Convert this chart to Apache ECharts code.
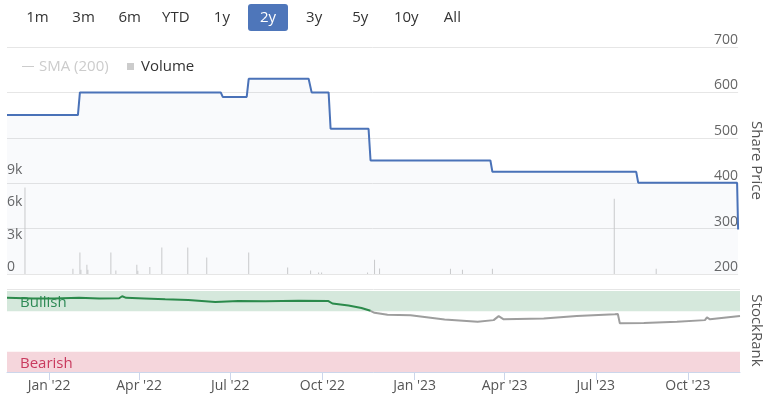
<!DOCTYPE html>
<html><head><meta charset="utf-8">
<script src="https://cdn.jsdelivr.net/npm/echarts@6/dist/echarts.min.js"></script>
<style>html,body{margin:0;padding:0;background:#fff}#c{width:772px;height:395px}</style>
</head><body><div id="c"></div>
<script>
// ---- data ----
const rangeButtons = ['1m','3m','6m','YTD','1y','2y','3y','5y','10y','All'];
const activeButton = '2y';
const xStart = '2021-11-20';
const xEnd = '2023-11-22';
const tickDates = ['2022-01-01','2022-04-01','2022-07-01','2022-10-01','2023-01-01','2023-04-01','2023-07-01','2023-10-01'];
const tickLabels = ["Jan '22","Apr '22","Jul '22","Oct '22","Jan '23","Apr '23","Jul '23","Oct '23"];

const priceDates = ['2021-11-20','2022-01-30','2022-02-01','2022-06-22','2022-06-24','2022-07-18','2022-07-20','2022-09-18','2022-09-21','2022-10-08','2022-10-10','2022-11-17','2022-11-19','2023-03-19','2023-03-21','2023-08-12','2023-08-14','2023-11-21','2023-11-22'];
const priceValues = [550,550,600,600,590,590,630,630,600,600,520,520,450,450,425,425,401,401,298];

const volumeDates = ['2021-12-08','2022-01-25','2022-02-01','2022-02-02','2022-02-08','2022-02-09','2022-03-04','2022-03-09','2022-03-30','2022-03-31','2022-04-12','2022-04-24','2022-05-20','2022-06-08','2022-07-20','2022-08-28','2022-09-20','2022-09-28','2022-10-01','2022-11-16','2022-11-23','2022-11-28','2023-02-07','2023-02-19','2023-03-21','2023-07-21','2023-09-01'];
const volumeValues = [8000,490,1990,400,860,400,1990,330,860,300,650,2450,2450,1530,1990,610,330,150,150,150,1320,520,490,400,490,6950,490];

const rankDates = ['2021-11-20','2021-12-16','2022-01-06','2022-01-31','2022-02-20','2022-03-12','2022-03-15','2022-03-19','2022-04-06','2022-04-27','2022-05-20','2022-06-16','2022-07-09','2022-08-05','2022-09-07','2022-10-07','2022-10-11','2022-10-27','2022-11-09','2022-11-18','2022-11-22','2022-12-05','2022-12-28','2023-01-31','2023-03-05','2023-03-21','2023-03-26','2023-03-31','2023-05-10','2023-06-12','2023-07-20','2023-07-23','2023-07-25','2023-08-18','2023-09-20','2023-10-18','2023-10-20','2023-10-23','2023-11-22'];
const rankValues = [91.5,90.6,90.8,91.5,90.6,91,93.5,91.5,90.8,89.8,88.8,86.5,87.5,87.3,87.8,87.5,84.5,82,79,75.5,73,70.5,70.1,64.8,61.9,64,68.9,65,66,69.2,71.3,71.5,60,60.6,61.9,64,67.3,65,69];
const bullishThreshold = 75;

const bandNames = ['Bullish','Bearish'];

// ---- helpers ----
function ts(s){const p=s.split('-').map(Number);return new Date(p[0],p[1]-1,p[2]).getTime();}
const FONT = 'Open Sans';
const tickTs = tickDates.map(ts);
const pricePts = priceDates.map((d,i)=>[ts(d),priceValues[i]]);
const volPts = volumeDates.map((d,i)=>[ts(d),volumeValues[i]]);
const rankPts = rankDates.map((d,i)=>[ts(d),rankValues[i]]);
const firstLow = rankValues.findIndex(v=>v<bullishThreshold);
const rankHigh = rankPts.slice(0, firstLow);
const rankLow = rankPts.slice(firstLow-1);

const graphics = [];
rangeButtons.forEach((b,i)=>{
  const cx = 37.5 + 46.1*i;
  if (b===activeButton) {
    graphics.push({type:'rect', shape:{x:cx-20, y:4, width:40, height:27, r:3}, style:{fill:'#4e76ba'}});
  }
  graphics.push({type:'text', x:cx, y:18, style:{text:b, fill: b===activeButton?'#fff':'#333', font:'15px "Open Sans"', textAlign:'center', textVerticalAlign:'middle'}});
});

const chart = echarts.init(document.getElementById('c'), null, {renderer:'canvas'});
const xCommon = {type:'value', min: ts(xStart), max: ts(xEnd), scale:true};
chart.setOption({
  animation:false,
  textStyle:{fontFamily:FONT},
  graphic: graphics,
  legend:[
    {data:['SMA (200)'], left:17, top:54, icon:'rect', itemWidth:12, itemHeight:1, inactiveColor:'#ccc', selected:{'SMA (200)':false}, textStyle:{fontSize:15, color:'#333', fontFamily:FONT, padding:[0,0,0,0]}},
    {data:['Volume'], left:122, top:54, icon:'rect', itemWidth:7, itemHeight:7, textStyle:{fontSize:15, color:'#333', fontFamily:FONT, padding:[0,0,0,2]}}
  ],
  grid:[
    {left:7, right:29, top:47, bottom:121},
    {left:7, right:29, top:289, bottom:23}
  ],
  xAxis:[
    Object.assign({gridIndex:0, show:false, splitLine:{show:false}}, xCommon),
    Object.assign({gridIndex:1,
      axisLine:{show:true, lineStyle:{color:'#ccd6eb'}},
      axisTick:{show:true, length:8, lineStyle:{color:'#ccd6eb'}, customValues: tickTs},
      axisLabel:{customValues: tickTs, color:'#555', fontSize:14, margin:7, fontFamily:FONT,
        formatter:(v)=>{const i=tickTs.indexOf(v);return i>=0?tickLabels[i]:'';}},
      splitLine:{show:false}
    }, xCommon)
  ],
  yAxis:[
    {gridIndex:0, type:'value', position:'right', min:200, max:700, interval:100,
      name:'Share Price', nameLocation:'middle', nameRotate:-90, nameGap:9,
      nameTextStyle:{fontSize:15, color:'#555', fontFamily:FONT},
      axisLine:{show:false}, axisTick:{show:false},
      axisLabel:{inside:true, margin:0, verticalAlign:'bottom', color:'#666', fontSize:14, fontFamily:FONT},
      splitLine:{lineStyle:{color:'#e6e6e6'}}},
    {gridIndex:0, type:'value', position:'left', min:0, max:21000, interval:3000,
      axisLine:{show:false}, axisTick:{show:false}, splitLine:{show:false},
      axisLabel:{inside:true, margin:0, verticalAlign:'bottom', color:'#666', fontSize:14, fontFamily:FONT,
        formatter:(v)=> v===0?'0':(v<=9000?(v/1000)+'k':'')}},
    {gridIndex:1, type:'value', position:'right', min:0, max:102.4, interval:102.4,
      name:'StockRank', nameLocation:'middle', nameRotate:-90, nameGap:9,
      nameTextStyle:{fontSize:15, color:'#555', fontFamily:FONT},
      axisLine:{show:false}, axisTick:{show:false},
      axisLabel:{inside:true, margin:2, verticalAlign:'bottom', color:'#666', fontSize:14, fontFamily:FONT,
        formatter:(v)=> v===0?'0':''},
      splitLine:{lineStyle:{color:'#e6e6e6'}}}
  ],
  series:[
    {name:'Price', type:'line', xAxisIndex:0, yAxisIndex:0, data:pricePts, symbol:'none',
      lineStyle:{color:'#4a72b8', width:2}, itemStyle:{color:'#4a72b8'},
      areaStyle:{color:'rgba(74,114,184,0.05)', origin:'start'}, z:3},
    {name:'Volume', type:'bar', xAxisIndex:0, yAxisIndex:1, data:volPts, barWidth:1,
      itemStyle:{color:'#cccccc'}, z:2},
    {name:'SMA (200)', type:'line', xAxisIndex:0, yAxisIndex:0, data:[], symbol:'none', itemStyle:{color:'#888'}},
    {name:'StockRank', type:'line', xAxisIndex:1, yAxisIndex:2, data:rankLow, symbol:'none',
      lineStyle:{width:2, color:'#9e9e9e'}, itemStyle:{color:'#9e9e9e'}, z:3,
      markArea:{silent:true, data:[
        [{yAxis:75, name:bandNames[0], itemStyle:{color:'#d5e8dc'}, label:{color:'#2e8a56'}},{yAxis:100}],
        [{yAxis:0, name:bandNames[1], itemStyle:{color:'#f5d6dc'}, label:{color:'#c93a5e'}},{yAxis:25}]
      ], label:{position:'insideLeft', distance:13, offset:[0,2], fontSize:15, fontFamily:FONT}}},
    {name:'StockRank Bullish', type:'line', xAxisIndex:1, yAxisIndex:2, data:rankHigh, symbol:'none',
      lineStyle:{width:2, color:'#2b8a4b'}, itemStyle:{color:'#2b8a4b'}, z:4}
  ]
});
</script></body></html>
